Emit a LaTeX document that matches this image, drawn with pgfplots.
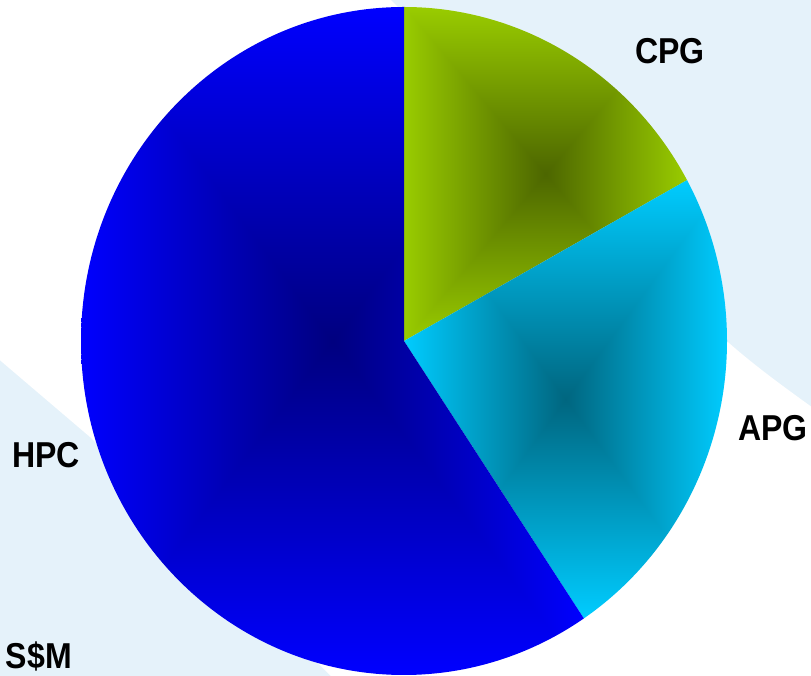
\documentclass[border=0pt]{standalone}
\usepackage{pgfplots}
\pgfplotsset{compat=1.18}
\usepackage{pgfplotstable}
\usepackage{fontspec}
\setmainfont{Liberation Sans}
\newfontfamily\labelfont[FakeStretch=0.89]{Liberation Sans}

\definecolor{bgblue}{RGB}{229,242,250}

% Rectangular ("from centre") gradients: half intensity in the middle,
% full slice colour on the edge of the slice's bounding box.
\pgfdeclarefunctionalshading{pyrCPG}{\pgfpoint{-50bp}{-50bp}}{\pgfpoint{50bp}{50bp}}{}{
  abs exch abs 2 copy lt {exch} if pop
  25 div dup 1 gt {pop 1} if
  0.5 mul 0.5 add
  dup 0.6 mul exch dup 0.8 mul exch 0 mul
}
\pgfdeclarefunctionalshading{pyrAPG}{\pgfpoint{-50bp}{-50bp}}{\pgfpoint{50bp}{50bp}}{}{
  abs exch abs 2 copy lt {exch} if pop
  25 div dup 1 gt {pop 1} if
  0.5 mul 0.5 add
  dup 0 mul exch dup 0.8 mul exch 1 mul
}
\pgfdeclarefunctionalshading{pyrHPC}{\pgfpoint{-50bp}{-50bp}}{\pgfpoint{50bp}{50bp}}{}{
  abs exch abs 2 copy lt {exch} if pop
  25 div dup 1 gt {pop 1} if
  0.5 mul 0.5 add
  dup 0 mul exch dup 0 mul exch 1 mul
}

% Revenue split by segment
\pgfplotstableread{
label value
CPG 17.0
APG 23.6
HPC 59.4
}\piedata

\begin{document}
\begin{tikzpicture}
\pgfplotstablegetelem{0}{value}\of\piedata \let\vA\pgfplotsretval
\pgfplotstablegetelem{1}{value}\of\piedata \let\vB\pgfplotsretval
\pgfplotstablegetelem{2}{value}\of\piedata \let\vC\pgfplotsretval
\pgfmathsetmacro\tot{\vA+\vB+\vC}
\pgfmathsetmacro\aA{90-360*\vA/\tot}   % CPG | APG boundary
\pgfmathsetmacro\aB{\aA-360*\vB/\tot}  % APG | HPC boundary
\def\cx{404}\def\cy{335}\def\rx{323}\def\ry{334}

\begin{axis}[
  width=811pt, height=676pt, scale only axis,
  xmin=0, xmax=811, ymin=0, ymax=676,
  axis lines=none, clip=true,
]
% background
\fill[bgblue] (-5,-5) rectangle (816,681);
\fill[white] (-5,681) -- (386,681) -- (700,360)
  .. controls (740,320) and (780,292) .. (820,263)
  -- (820,-5) -- (336,-5) -- (90,239) -- (-5,320) -- cycle;

% slices, clockwise from 12 o'clock
\shade[shading=pyrCPG] (\cx,\cy) -- ({\cx},{\cy+\ry})
  arc[start angle=90, end angle=\aA, x radius=\rx pt, y radius=\ry pt] -- cycle;
\shade[shading=pyrAPG] (\cx,\cy) -- ({\cx+\rx*cos(\aA)},{\cy+\ry*sin(\aA)})
  arc[start angle=\aA, end angle=0, x radius=\rx pt, y radius=\ry pt]
  arc[start angle=0, end angle=\aB, x radius=\rx pt, y radius=\ry pt] -- cycle;
\shade[shading=pyrHPC] (\cx,\cy) -- ({\cx+\rx*cos(\aB)},{\cy+\ry*sin(\aB)})
  arc[start angle=\aB, end angle=-90, x radius=\rx pt, y radius=\ry pt]
  arc[start angle=-90, end angle=-180, x radius=\rx pt, y radius=\ry pt]
  arc[start angle=-180, end angle=-270, x radius=\rx pt, y radius=\ry pt] -- cycle;

% labels
\tikzset{lbl/.style={font=\labelfont\bfseries\fontsize{36}{36}\selectfont, inner sep=0pt, text=black}}
\node[lbl] at (670,625) {CPG};
\node[lbl] at (773,248) {APG};
\node[lbl] at (46,221) {HPC};
\node[lbl, anchor=base east] at (72,7) {S\$M};
\end{axis}
\pgfresetboundingbox
\useasboundingbox (current axis.south west) rectangle (current axis.north east);
\end{tikzpicture}
\end{document}
